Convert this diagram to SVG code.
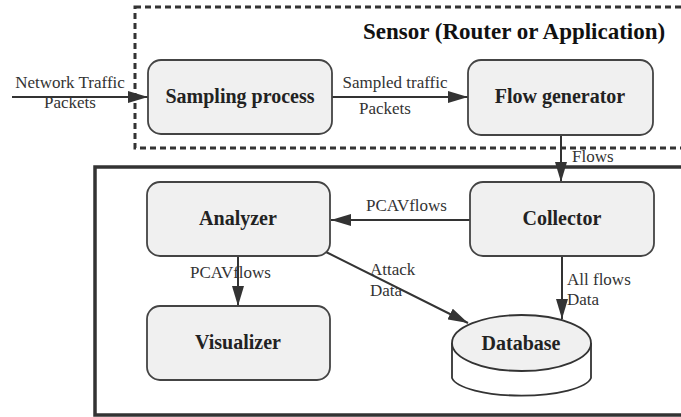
<svg xmlns="http://www.w3.org/2000/svg" width="681" height="417" viewBox="0 0 681 417">
<defs>
<style>
.node rect{fill:#f0f0f0;stroke:#444;stroke-width:1.8}
.lbl{font-family:"Liberation Serif","Times New Roman",serif;font-weight:bold;font-size:20px;fill:#222;text-anchor:middle}
.el{font-family:"Liberation Serif","Times New Roman",serif;font-size:17px;fill:#333}
.edge{stroke:#333;stroke-width:2;fill:none}
</style>
<marker id="arr" viewBox="0 0 20 12" refX="20" refY="6" markerWidth="20" markerHeight="12" markerUnits="userSpaceOnUse" orient="auto">
<path d="M0,0 L20,6 L0,12 Z" fill="#333"/>
</marker>
</defs>
<rect width="681" height="417" fill="#fff"/>
<g id="sensor">
<rect x="135" y="7" width="560" height="141" fill="none" stroke="#333" stroke-width="3" stroke-dasharray="6,4"/>
<text x="363" y="39" font-family="'Liberation Serif','Times New Roman',serif" font-weight="bold" font-size="23px" fill="#111">Sensor (Router or Application)</text>
</g>
<g id="backend">
<rect x="95" y="167" width="600" height="248" fill="none" stroke="#333" stroke-width="3.5"/>
</g>
<g id="connectors">
<line class="edge" x1="12" y1="97" x2="148" y2="97" marker-end="url(#arr)"/>
<text class="el" x="70" y="88" text-anchor="middle">Network Traffic</text>
<text class="el" x="70" y="108" text-anchor="middle">Packets</text>
<line class="edge" x1="332" y1="97" x2="468" y2="97" marker-end="url(#arr)"/>
<text class="el" x="395" y="88" text-anchor="middle">Sampled traffic</text>
<text class="el" x="385" y="114" text-anchor="middle">Packets</text>
<line class="edge" x1="561" y1="135" x2="561" y2="182" marker-end="url(#arr)"/>
<text class="el" x="572" y="162">Flows</text>
<line class="edge" x1="470" y1="220" x2="331" y2="220" marker-end="url(#arr)"/>
<text class="el" x="366" y="211">PCAVflows</text>
<line class="edge" x1="238" y1="256" x2="238" y2="306" marker-end="url(#arr)"/>
<text class="el" x="190" y="278">PCAVflows</text>
<line class="edge" x1="326" y1="252" x2="468" y2="323" marker-end="url(#arr)"/>
<text class="el" x="370" y="275">Attack</text>
<text class="el" x="370" y="296">Data</text>
<line class="edge" x1="562" y1="256" x2="562" y2="319" marker-end="url(#arr)"/>
<text class="el" x="567" y="285">All flows</text>
<text class="el" x="567" y="305">Data</text>
</g>
<g id="sampling" class="node">
<rect x="148" y="60" width="184" height="74" rx="13"/>
<text class="lbl" x="240" y="103">Sampling process</text>
</g>
<g id="flowgen" class="node">
<rect x="468" y="60" width="185" height="75" rx="13"/>
<text class="lbl" x="560" y="103">Flow generator</text>
</g>
<g id="analyzer" class="node">
<rect x="147" y="182" width="183" height="74" rx="13"/>
<text class="lbl" x="238" y="225">Analyzer</text>
</g>
<g id="visualizer" class="node">
<rect x="147" y="306" width="183" height="74" rx="13"/>
<text class="lbl" x="238" y="349">Visualizer</text>
</g>
<g id="collector" class="node">
<rect x="470" y="182" width="184" height="74" rx="13"/>
<text class="lbl" x="562" y="225">Collector</text>
</g>
<g id="database">
<path d="M452,343 L452,378 A70,20 0 0 0 591,378 L591,343" fill="#fff" stroke="#333" stroke-width="1.8"/>
<ellipse cx="521.5" cy="343" rx="69.5" ry="28" fill="#f0f0f0" stroke="#333" stroke-width="1.8"/>
<text class="lbl" x="521" y="350">Database</text>
</g>
</svg>
